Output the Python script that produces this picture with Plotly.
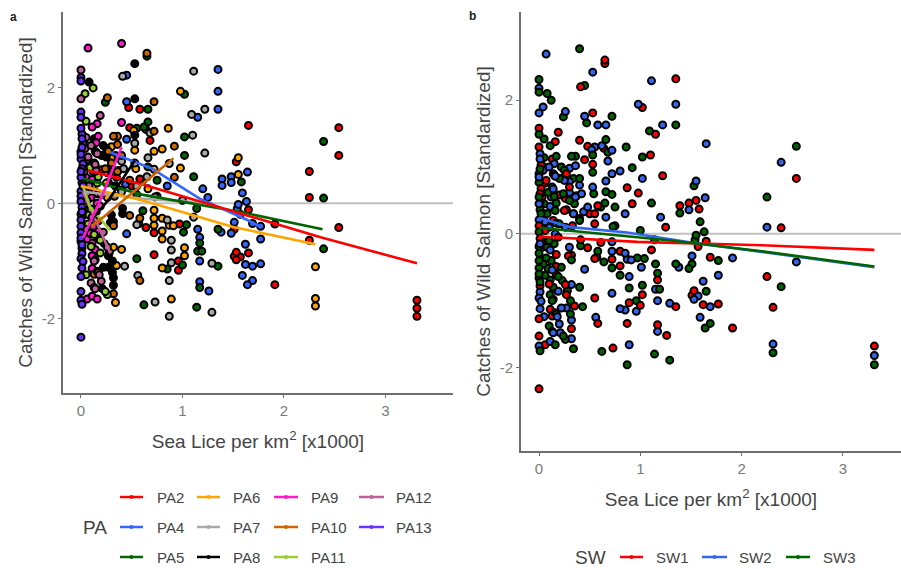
import plotly.graph_objects as go

# Each point: (sea lice per km2 [x1000], standardized catch, SW group)
PA2 = [(1.65,1.35,2),(2.54,1.31,3),(2.54,.83,1),(2.25,.55,3),(2.25,.1,2),(2.54,-.42,2),(2.25,-.64,1),(3.31,-1.68,1),(3.31,-1.82,2),(3.31,-1.96,3),
       (1.91,-.36,2),(1.91,-1.41,1),(1.65,-.86,3),(1.65,-.11,1),(1.53,.72,3),(1.51,-.92,1),(1.57,-.93,2),(1.53,-.98,2),(1.53,-.85,1),(1.51,-.45,3),
       (.47,1.66,3),(.58,1.63,2),(.48,1.31,1),(.68,1.09,2),(.72,-.89,2),(.96,-1.0,3),(.96,-1.16,2),(.64,-.42,3),(.72,-.51,3),(.97,-.36,3),(.61,.4,3),
       (.2,.58,1),(.35,.45,3),(.5,.3,1),(.58,.42,1),(.27,.36,1)]
PA4 = [(1.35,2.32,1),(1.35,1.94,2),(1.35,1.63,3),(1.15,1.49,1),(.45,2.22,3),(.45,1.76,2),(.45,1.11,1),(.64,1.28,1),(1.77,-.62,2),(1.77,-1.05,1),
       (1.77,-.4,3),(1.69,-.35,1),(1.62,-.71,2),(1.69,-1.09,2),(1.62,-1.06,1),(1.69,-1.34,3),(1.64,-1.41,3),(1.59,-1.25,2),(1.64,.54,2),(1.59,.18,3),
       (1.63,.03,3),(1.48,.46,1),(1.48,.36,2),(1.39,.42,1),(1.39,.31,3),(1.57,-.19,1),(1.54,-.09,3),(1.55,-.02,3),(1.51,-.33,2),(.45,-.53,2),
       (1.26,-1.52,1),(1.17,-1.36,1),(1.15,-.45,3),(1.17,-.59,3),(1.17,-1.0,2),(1.38,-.5,2),(1.48,-.52,3),(1.2,.25,2),(1.25,.1,1),(.85,.3,2),(.44,.33,2)]
PA5 = [(.65,2.55,1),(1.02,1.89,1),(.24,1.75,3),(.66,1.63,2),(.66,1.41,3),(.62,1.32,2),(.55,1.3,2),(1.02,1.15,3),(1.02,.83,2),(1.11,.46,3),
       (2.39,1.07,2),(2.39,.09,1),(2.39,-.79,3),(1.58,.37,1),(.55,-.96,1),(.62,-1.76,3),(1.14,-1.8,3),(1.17,-1.46,2),(.85,-1.14,2),(1.0,-1.07,1),
       (1.01,-.5,2),(1.04,-.37,3),(.61,-.13,1),(1.17,-.69,1),(1.15,-.83,2),(1.19,-.83,3),(1.35,-1.09,1),(1.35,-.45,3),(1.14,-.09,3),(.75,.4,3),(.55,.15,1),
       (.66,.63,3),(.34,.83,3)]
PA6 = [(.98,1.94,2),(.86,1.3,3),(.80,.94,2),(.72,.90,2),(.98,.61,1),(.72,.59,3),(.53,.92,3),(.52,1.26,2),(1.55,.79,2),(1.55,.5,1),(2.31,-1.1,1),
       (2.31,-1.65,2),(2.31,-1.78,3),(.89,-1.66,2),(.80,-1.12,2),(1.02,-.91,1),(1.02,-.77,3),(.80,-.62,3),(.80,-.48,1),(.72,-.38,1),(.72,-.26,2),
       (.72,-.12,2),(.57,-.35,3),(.80,-.26,1),(.87,-.38,2),(.91,-.39,2),(.34,-1.72,3),(.35,-1.08,1),(.32,-.76,2),(.4,-.8,3),(.22,.83,3),(.3,.98,2),(.25,.35,1),(.66,.25,2),
       (.3,.78,2),(.37,.57,1),(.54,.6,3),(.4,.23,1),(.26,.53,1),(.28,-.85,3),(.26,.1,2)]
PA7 = [(.41,2.2,1),(1.11,2.29,2),(1.22,1.63,2),(1.09,1.54,3),(1.1,1.18,1),(1.22,.87,1),(.66,.79,2),(.53,1.04,1),(.68,1.22,3),(.43,-1.09,3),(.56,-1.25,2),
       (.73,-1.71,1),(.87,-1.96,3),(.87,-1.34,1),(1.29,-1.89,3),(.89,-1.03,1),(.89,-.81,3),(.89,-.64,2),(.85,-.29,2),(.55,-.37,1),(1.29,-1.04,2),(1.11,-.24,1),
       (.53,.7,2),(.42,.6,2),(.55,.3,1),(1.0,.05,3),(.4,.2,3),(.75,.12,1),(.87,.69,1),(.4,.73,2),(.65,.46,3),(.73,.11,3)]
PA8 = [(.53,2.42,2),(.53,1.81,1),(.08,2.1,3),(.53,1.18,3),(.41,-.18,3),(.41,-.09,1),(.32,-.32,1),(.29,-.33,1),(.21,-1.48,2),(.32,-1.42,1),(.32,-1.29,2),
       (.27,-1.11,2),(.22,-1.11,2),(.27,-.91,1),(.31,-1.0,3),(.31,-1.2,3),(.25,.8,2),(.3,.5,3),(.13,1.12,1),(.22,1.0,3),(.25,.95,3),(.3,.62,2),(.34,.3,1),(.34,.3,2),
       (.2,.83,3),(.23,-.7,3),(.3,-.2,2)]
PA9 = [(.07,2.69,2),(.40,2.77,3),(.40,1.4,1),(.16,1.38,1),(.11,1.32,3),(.17,1.16,3),(.15,1.05,2),(.06,-1.66,1),(.11,-1.61,2),(.16,-1.66,3),(.11,-1.13,1),
       (.11,-.91,3),(.11,-.69,3),(.17,-.49,1),(.17,-.61,1),(.17,-.31,1),(.05,.3,1),(.1,.1,2),(.14,.2,1),(.16,.0,2),(.08,-.1,3),(.12,-.4,3),(.06,.05,1),(.15,-.15,3),(.03,-.2,2),
       (.06,-.62,3),(.09,-.52,3),(.14,-.8,3),(.05,.45,3),(.12,.55,2),(.11,.41,2),(.17,.16,2),(.06,.76,1)]
PA10 = [(.65,2.6,1),(.26,1.83,2),(.72,1.76,3),(.72,1.25,2),(.36,1.16,3),(.32,1.16,3),(.36,1.02,2),(.92,.99,3),(.92,.45,1),(.36,.55,2),(.48,-.21,1),(.58,-.26,3),
        (.58,-1.34,1),(.32,-1.57,2),(.32,-.39,3),(.13,-1.23,1),(.16,-1.18,2),(.4,.83,3),(.48,.4,2),(.3,.7,1),(.27,.9,1),(.2,.15,3),(.33,.12,1),(.17,-1.2,3),(.24,.6,3)]
PA11 = [(.12,2.0,3),(.04,1.9,2),(.05,1.42,3),(.05,1.0,3),(.05,-1.24,2),(.19,-.86,2),(.19,-.64,3),(.13,-.54,2),(.26,-1.58,3),(.24,-1.53,3),(.09,.62,3),(.08,-.2,3),
        (.1,-.75,1),(.14,-.98,3),(.07,-.36,3),(.1,-.1,3),(.13,.7,2),(.16,.35,3),(.17,.46,3),(.14,.9,3)]
PA12 = [(0,2.31,3),(0,1.81,2),(.19,1.52,1),(.05,1.14,3),(.04,.95,2),(.1,-1.38,3),(.13,-1.46,3),(.14,-1.48,2),(.26,-.76,1),(.11,-.24,2),(.08,.3,3),(.13,-1.0,3),
        (.2,-1.35,2),(.18,-1.24,2),(.07,.8,1),(.03,.55,1),(.06,.18,2),(.04,-.45,3),(.19,-.05,1),(.22,-.5,3),(.1,1.0,2),(.15,.88,1),(.16,.86,2),(.14,.67,2),(.15,.56,3)]
PA13 = [(0,2.18,2),(0,2.12,3),(0,1.58,1),(0,1.49,3),(.01,1.2,2),(.02,1.03,1),(0,.9,2),(0,.77,3),(.02,.68,1),(.01,.6,1),(.01,.46,1),(.01,.36,3),(0,.21,2),(0,.12,1),
        (0,.03,3),(.01,-.07,1),(0,-.19,3),(0,-.29,3),(0,-.4,3),(0,-.51,3),(0,-.66,3),(.01,-.78,1),(.01,-.87,2),(0,-.96,2),(.02,-1.01,2),(.01,-1.12,2),(0,-1.27,1),
        (0,-1.53,1),(0,-1.68,2),(.01,-1.75,3),(0,-2.32,1),(0,.85,2),(.01,1.12,2),(.02,.3,3),(0,.45,2),(.01,-.15,2),(.01,.97,3),(0,.55,3),(0,-.6,3),(.01,-.72,3),(0,1.3,1)]

PA_POINTS = {"PA2": PA2, "PA4": PA4, "PA5": PA5, "PA6": PA6, "PA7": PA7, "PA8": PA8, "PA9": PA9,
             "PA10": PA10, "PA11": PA11, "PA12": PA12, "PA13": PA13}
PA_COLORS = {"PA2": "#ff0000", "PA4": "#3366ff", "PA5": "#006400", "PA6": "#ffa500", "PA7": "#a9a9a9", "PA8": "#000000",
             "PA9": "#ff1acb", "PA10": "#cc6600", "PA11": "#9acd32", "PA12": "#c0609a", "PA13": "#6633ff"}
SW_COLORS = {1: "#ff0000", 2: "#3366ee", 3: "#006400"}

# Fitted curves, panel a
PA_FITS = {
    "PA12": ([.02,.29], [.2,-.87]),
    "PA11": ([.02,.09,.29], [.3,-.07,-.47]),
    "PA7": ([.03,.6,1.3], [.2,.08,0]),
    "PA6": ([0,.61,1.5,2.31], [.3,.05,-.41,-.71]),
    "PA5": ([.02,.6,1.57,2.38], [.43,.15,-.15,-.45]),
    "PA4": ([.29,.7,1.17,1.64,1.77], [.88,.6,.08,-.29,-.41]),
    "PA2": ([.07,.6,1.14,2.36,3.31], [.57,.33,.05,-.59,-1.04]),
    "PA8": ([.53,.29,.1], [.74,.1,-.3]),
    "PA10": ([.91,.45,.22,.1], [.78,.1,-.24,-.4]),
    "PA9": ([.40,.19,.02], [.97,.05,-.6]),
}
# Fitted curves, panel b
SW_FITS = {
    1: ([0,.97,2.2,3.31], [-.04,-.12,-.17,-.24]),
    2: ([0,.31,.87,1.5,2.2,3.31], [.24,.1,.02,-.13,-.27,-.5]),
    3: ([0,1.3,2.2,3.31], [.09,-.1,-.26,-.49]),
}

LEGEND_PA_ROWS = [["PA2", "PA6", "PA9", "PA12"], ["PA4", "PA7", "PA10", "PA13"], ["PA5", "PA8", "PA11"]]
LEGEND_SW = ["SW1", "SW2", "SW3"]
X_TITLE = "Sea Lice per km<sup>2</sup> [x1000]"
Y_TITLE = "Catches of Wild Salmon [Standardized]"
W, H = 901, 569

def px(x): return x / W
def py(y): return 1 - y / H

xs, ys, pa_col, sw_col = [], [], [], []
for name, pts in PA_POINTS.items():
    for x, y, s in pts:
        xs.append(x); ys.append(y); pa_col.append(PA_COLORS[name]); sw_col.append(SW_COLORS[s])

fig = go.Figure()
mk = lambda c: dict(size=7, color=c, line=dict(color="black", width=2), opacity=1)
fig.add_trace(go.Scatter(x=xs, y=ys, mode="markers", marker=mk(pa_col), xaxis="x", yaxis="y", showlegend=False))
for name, (fx, fy) in PA_FITS.items():
    fig.add_trace(go.Scatter(x=fx, y=fy, mode="lines", line=dict(color=PA_COLORS[name], width=2.6), xaxis="x", yaxis="y", showlegend=False))
fig.add_trace(go.Scatter(x=xs, y=ys, mode="markers", marker=mk(sw_col), xaxis="x2", yaxis="y2", showlegend=False))
for s, (fx, fy) in SW_FITS.items():
    fig.add_trace(go.Scatter(x=fx, y=fy, mode="lines", line=dict(color=SW_COLORS[s], width=2.6), xaxis="x2", yaxis="y2", showlegend=False))

axis_c = "#6e6e6e"
base = dict(showgrid=False, zeroline=False, showline=True, linecolor=axis_c, linewidth=2, ticks="outside", ticklen=3, tickwidth=1.2,
            tickcolor=axis_c, tickfont=dict(family="Liberation Sans", size=15, color="#7a7a7a"), mirror=False)
tfont = dict(family="Liberation Sans", size=19, color="#444444")
xt = dict(text=X_TITLE, font=tfont, standoff=17)
yt = dict(text=Y_TITLE, font=tfont, standoff=4)
fig.update_layout(
    width=W, height=H, margin=dict(l=0, r=0, t=0, b=0), paper_bgcolor="white", plot_bgcolor="white",
    xaxis=dict(base, domain=[px(63), px(453)], range=[-.177, 3.665], tickvals=[0,1,2,3], anchor="y", title=xt),
    yaxis=dict(base, domain=[py(393), py(12)], range=[-3.288, 3.315], tickvals=[-2,0,2], ticktext=["-2","0","2"], anchor="x", title=yt),
    xaxis2=dict(base, domain=[px(521), 1], range=[-.178, 3.573], tickvals=[0,1,2,3], anchor="y2", title=xt),
    yaxis2=dict(base, domain=[py(451), py(12)], range=[-3.25, 3.32], tickvals=[-2,0,2], ticktext=["-2","0","2"], anchor="x2", title=yt),
)
shapes = [
    dict(type="line", xref="x domain", yref="y", x0=0, x1=1, y0=0, y1=0, line=dict(color="#c0c0c0", width=2), layer="below"),
    dict(type="line", xref="x2 domain", yref="y2", x0=0, x1=1, y0=0, y1=0, line=dict(color="#c0c0c0", width=2), layer="below"),
]
ann = []
def text(x, y, s, size, color="#444444", anchor="left", bold=False, angle=0):
    ann.append(dict(x=px(x), y=py(y), xref="paper", yref="paper", text=("<b>%s</b>" % s) if bold else s, showarrow=False,
                    xanchor=anchor, yanchor="middle", textangle=angle, font=dict(family="Liberation Sans", size=size, color=color)))
def key(x0, x1, y, c):
    shapes.append(dict(type="line", xref="paper", yref="paper", x0=px(x0), x1=px(x1), y0=py(y), y1=py(y), line=dict(color=c, width=2.5)))
    m = (x0 + x1) / 2
    shapes.append(dict(type="circle", xref="paper", yref="paper", x0=px(m-2), x1=px(m+2), y0=py(y-2), y1=py(y+2), fillcolor=c, line=dict(width=0)))

text(8, 17, "a", 12, "#222222", bold=True)
text(467, 16, "b", 12, "#222222", bold=True)

key_cols = [(120, 143, 155), (197, 220, 231), (274, 298, 309), (359, 384, 394)]
row_y = [497, 527, 557]
for ry, row in zip(row_y, LEGEND_PA_ROWS):
    for (k0, k1, tx), name in zip(key_cols, row):
        key(k0, k1, ry, PA_COLORS[name])
        text(tx, ry, name, 15)
text(81, 527, "PA", 19)
text(573, 557, "SW", 19)
for (k0, k1, tx), name, s in zip([(620, 643, 654), (702, 727, 737), (786, 810, 821)], LEGEND_SW, [1, 2, 3]):
    key(k0, k1, 557, SW_COLORS[s])
    text(tx, 557, name, 15)

fig.update_layout(shapes=shapes, annotations=ann)
fig.write_html("out.html", config={"displayModeBar": False}, post_script="document.body.style.margin='0';")
